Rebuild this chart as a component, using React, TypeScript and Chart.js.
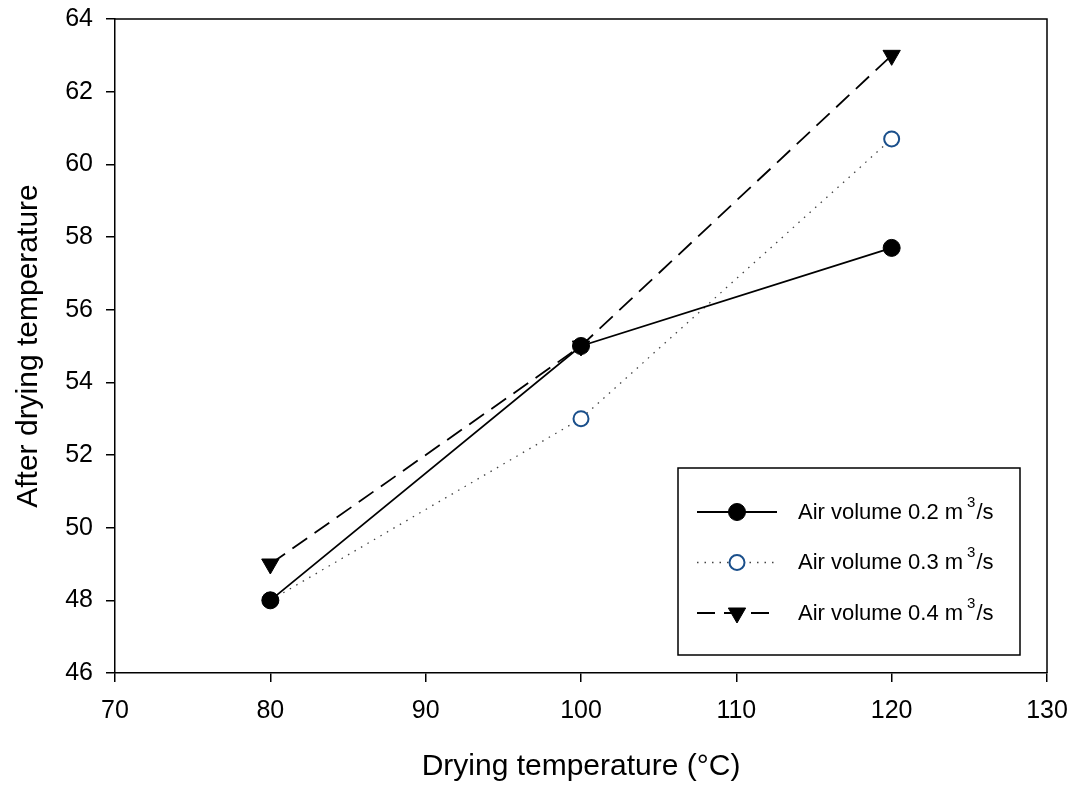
import React, { useEffect, useRef } from 'react';
import { Chart, registerables } from 'chart.js';

Chart.register(...registerables);

const temperatures = [80, 100, 120];
const air02 = [48, 55, 57.7];
const air03 = [48, 53, 60.7];
const air04 = [49, 55, 63];
const seriesLabels = ['Air volume 0.2 m³/s', 'Air volume 0.3 m³/s', 'Air volume 0.4 m³/s'];
const xTicks = [70, 80, 90, 100, 110, 120, 130];
const yTicks = [46, 48, 50, 52, 54, 56, 58, 60, 62, 64];
const xTitle = 'Drying temperature (°C)';
const yTitle = 'After drying temperature';

const FONT = '"Liberation Sans", Arial, sans-serif';

function drawMarker(ctx: CanvasRenderingContext2D, ds: any, x: number, y: number) {
  ctx.save();
  ctx.setLineDash([]);
  ctx.fillStyle = ds.pointBackgroundColor;
  ctx.strokeStyle = ds.pointBorderColor;
  ctx.lineWidth = ds.pointBorderWidth;
  const r = ds.pointRadius;
  ctx.beginPath();
  if (ds.pointStyle === 'triangle') {
    const s = Math.sin(Math.PI / 3) * r;
    ctx.moveTo(x, y + r);
    ctx.lineTo(x - s, y - r / 2);
    ctx.lineTo(x + s, y - r / 2);
    ctx.closePath();
  } else {
    ctx.arc(x, y, r, 0, Math.PI * 2);
  }
  ctx.fill();
  ctx.stroke();
  ctx.restore();
}

const boxLegend = {
  id: 'boxLegend',
  afterDraw(chart: any) {
    const ctx: CanvasRenderingContext2D = chart.ctx;
    const ca = chart.chartArea;
    ctx.save();
    ctx.strokeStyle = '#000';
    ctx.lineWidth = 1.5;
    ctx.beginPath();
    ctx.moveTo(ca.left, ca.top);
    ctx.lineTo(ca.right, ca.top);
    ctx.lineTo(ca.right, ca.bottom);
    ctx.stroke();

    ctx.lineWidth = 1.5;
    ctx.strokeRect(678, 468, 342, 187);

    chart.data.datasets.forEach((ds: any, i: number) => {
      const y = 512 + i * 50.5;
      ctx.save();
      ctx.strokeStyle = ds.borderColor;
      ctx.lineWidth = ds.borderWidth;
      ctx.setLineDash(ds.borderDash || []);
      ctx.beginPath();
      ctx.moveTo(697, y);
      ctx.lineTo(777, y);
      ctx.stroke();
      ctx.restore();
      drawMarker(ctx, ds, 737, y);

      const parts = String(ds.label).split('³');
      const baseline = y + 6.5;
      ctx.fillStyle = '#000';
      ctx.textAlign = 'left';
      ctx.textBaseline = 'alphabetic';
      ctx.font = `22px ${FONT}`;
      ctx.fillText(parts[0], 798, baseline);
      let x = 798 + ctx.measureText(parts[0]).width + 4;
      ctx.font = `15px ${FONT}`;
      ctx.fillText('3', x, baseline - 12);
      x += ctx.measureText('3').width + 1;
      ctx.font = `22px ${FONT}`;
      ctx.fillText(parts[1] || '', x, baseline);
    });
    ctx.restore();
  },
};

export default function App() {
  const ref = useRef<HTMLCanvasElement | null>(null);
  useEffect(() => {
    document.body.style.margin = '0';
    const canvas = ref.current;
    if (!canvas) return;
    const mk = (vals: number[]) => temperatures.map((t, i) => ({ x: t, y: vals[i] }));
    const chart = new Chart(canvas, {
      type: 'scatter',
      data: {
        datasets: [
          {
            label: seriesLabels[0],
            data: mk(air02),
            showLine: true,
            borderColor: '#000',
            borderWidth: 1.8,
            pointStyle: 'circle',
            pointRadius: 8.5,
            pointBackgroundColor: '#000',
            pointBorderColor: '#000',
            pointBorderWidth: 1,
          },
          {
            label: seriesLabels[1],
            data: mk(air03),
            showLine: true,
            borderColor: '#444',
            borderWidth: 1.3,
            borderDash: [1.5, 6],
            pointStyle: 'circle',
            pointRadius: 7.5,
            pointBackgroundColor: '#fff',
            pointBorderColor: '#1a4f8b',
            pointBorderWidth: 2,
          },
          {
            label: seriesLabels[2],
            data: mk(air04),
            showLine: true,
            borderColor: '#000',
            borderWidth: 1.8,
            borderDash: [18, 9],
            pointStyle: 'triangle',
            rotation: 180,
            pointRotation: 180,
            pointRadius: 10,
            pointBackgroundColor: '#000',
            pointBorderColor: '#000',
            pointBorderWidth: 1,
          } as any,
        ],
      },
      options: {
        responsive: false,
        animation: false,
        devicePixelRatio: 1,
        layout: { padding: { left: 0, right: 31, top: 19, bottom: 0 } },
        plugins: { legend: { display: false }, tooltip: { enabled: false } },
        scales: {
          x: {
            type: 'linear',
            min: 70,
            max: 130,
            afterBuildTicks: (s: any) => {
              s.ticks = xTicks.map((v) => ({ value: v }));
            },
            afterFit: (s: any) => {
              s.height = 116;
              s.paddingLeft = 0;
              s.paddingRight = 0;
              s.paddingTop = 0;
              s.paddingBottom = 0;
            },
            grid: { drawOnChartArea: false, drawTicks: true, tickLength: 9, color: '#000', lineWidth: 1.5 },
            border: { display: true, color: '#000', width: 1.5 },
            ticks: { color: '#000', font: { family: FONT, size: 25 }, padding: 14, maxRotation: 0 },
            title: { display: true, text: xTitle, color: '#000', font: { family: FONT, size: 30 }, padding: { top: 0, bottom: 4 } },
          },
          y: {
            type: 'linear',
            min: 46,
            max: 64,
            afterBuildTicks: (s: any) => {
              s.ticks = yTicks.map((v) => ({ value: v }));
            },
            afterFit: (s: any) => {
              s.width = 115;
              s.paddingLeft = 0;
              s.paddingRight = 0;
              s.paddingTop = 0;
              s.paddingBottom = 0;
            },
            grid: { drawOnChartArea: false, drawTicks: true, tickLength: 9, color: '#000', lineWidth: 1.5 },
            border: { display: true, color: '#000', width: 1.5 },
            ticks: { color: '#000', font: { family: FONT, size: 25 }, padding: 13 },
            title: { display: true, text: yTitle, color: '#000', font: { family: FONT, size: 30 }, padding: { top: 11, bottom: 0 } },
          },
        },
      },
      plugins: [boxLegend],
    } as any);
    return () => chart.destroy();
  }, []);
  return (
    <div style={{ position: 'fixed', left: 0, top: 0, width: 1078, height: 789, background: '#fff' }}>
      <canvas ref={ref} width={1078} height={789} style={{ display: 'block' }} />
    </div>
  );
}
